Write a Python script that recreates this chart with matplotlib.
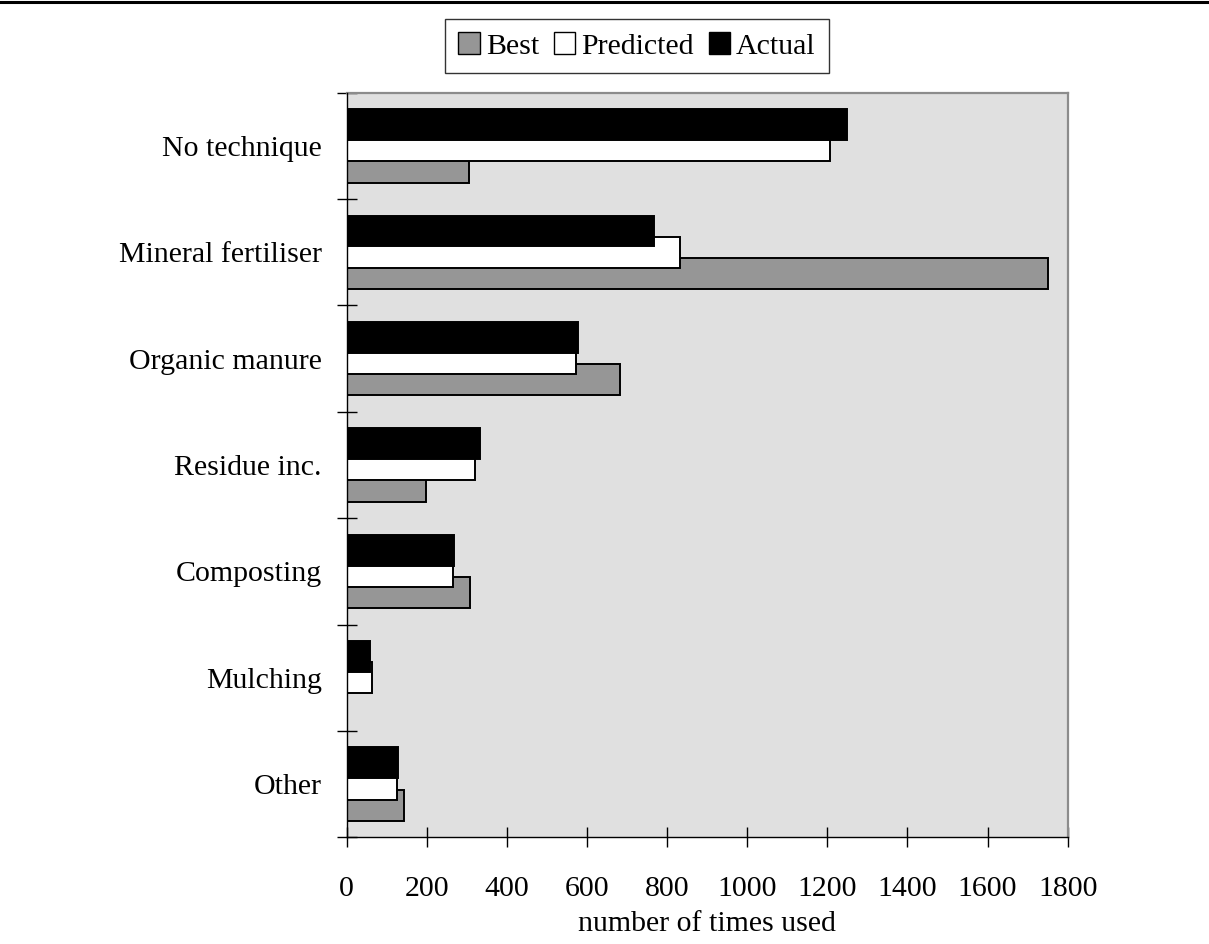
import numpy as np
import matplotlib
matplotlib.use("Agg")
import matplotlib.pyplot as plt
from matplotlib.lines import Line2D
from matplotlib.patches import Patch

# Data
categories = ["No technique", "Mineral fertiliser", "Organic manure", "Residue inc.",
              "Composting", "Mulching", "Other"]
best = [306, 1752, 682, 197, 307, 0, 142]
predicted = [1206, 832, 572, 321, 266, 62, 125]
actual = [1248, 767, 578, 333, 267, 58, 127]
xticks = [0, 200, 400, 600, 800, 1000, 1200, 1400, 1600, 1800]

plt.rcParams["font.family"] = ["Liberation Serif", "DejaVu Serif"]
plt.rcParams["font.size"] = 21.5

fig = plt.figure(figsize=(12.09, 9.44), dpi=100)
ax = fig.add_axes([0.2868, 0.1130, 0.5963, 0.7888])
ax.set_facecolor("#e0e0e0")

n = len(categories)
ypos = np.arange(n)[::-1].astype(float)
h = 0.29
off = 0.2
lw = 1.4

ax.barh(ypos - off, best, height=h, color="#969696", edgecolor="black", linewidth=lw, zorder=2)
ax.barh(ypos, predicted, height=h, color="white", edgecolor="black", linewidth=lw, zorder=3)
ax.barh(ypos + off, actual, height=h, color="black", edgecolor="black", linewidth=lw, zorder=4)

ax.set_xlim(0, 1800)
ax.set_ylim(-0.5, n - 0.5)

# category labels between the boundary ticks
ax.set_yticks(np.arange(-0.5, n, 1.0))
ax.set_yticklabels([])
ax.set_yticks(ypos, minor=True)
ax.set_yticklabels(categories, minor=True)
ax.tick_params(axis="y", which="major", direction="inout", length=14.4, width=1.0)
ax.tick_params(axis="y", which="minor", length=0, pad=18)

ax.set_xticks(xticks)
ax.set_xticklabels([str(t) for t in xticks])
ax.tick_params(axis="x", direction="inout", length=14.4, width=1.0, pad=21)
ax.set_xlabel("number of times used", labelpad=6)

for side in ["top", "right"]:
    ax.spines[side].set_color("#8c8c8c")
    ax.spines[side].set_linewidth(1.6)
for side in ["left", "bottom"]:
    ax.spines[side].set_color("black")
    ax.spines[side].set_linewidth(1.0)
    ax.spines[side].set_zorder(5)

handles = [Patch(facecolor="#969696", edgecolor="black", linewidth=1.0),
           Patch(facecolor="white", edgecolor="black", linewidth=1.0),
           Patch(facecolor="black", edgecolor="black", linewidth=1.0)]
leg = fig.legend(handles, ["Best", "Predicted", "Actual"], loc="center",
                 bbox_to_anchor=(637 / 1209, 1 - 46 / 944), ncol=3,
                 frameon=True, fancybox=False, edgecolor="black",
                 handlelength=0.72, handleheight=0.72, handletextpad=0.2,
                 columnspacing=0.5, borderpad=0.45, borderaxespad=0)
leg.get_frame().set_linewidth(1.0)

# rule across the top of the figure
fig.add_artist(Line2D([0, 1], [1 - 1.5 / 944, 1 - 1.5 / 944], color="black", linewidth=2.2))

fig.savefig("out.png", dpi=100)
